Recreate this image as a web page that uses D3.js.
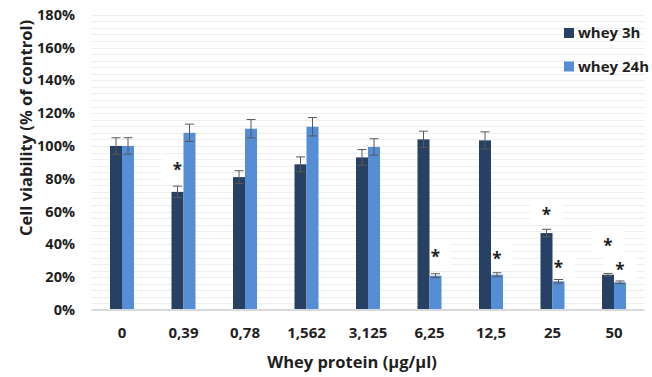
<!DOCTYPE html>
<html>
<head>
<meta charset="utf-8">
<script src="https://cdn.jsdelivr.net/npm/d3@7"></script>
<style>
  html, body { margin: 0; padding: 0; background: #ffffff; }
  svg { display: block; }
  text { font-family: "Open Sans", "DejaVu Sans", sans-serif; fill: #1f1f1f; }
</style>
</head>
<body>
<svg id="chart" width="652" height="377"></svg>
<script>
// Concentrations of whey protein (µg/µl)
const categories = ["0", "0,39", "0,78", "1,562", "3,125", "6,25", "12,5", "25", "50"];
const seriesNames = ["whey 3h", "whey 24h"];
// Viability, % of control
const whey3h  = [100, 72, 81, 88.8, 93, 104, 103.4, 46.9, 21.5];
const whey24h = [100, 108, 110.5, 111.7, 99.4, 20.9, 21.5, 17.5, 16.9];
// Error bars (± % of control)
const err3h  = [5, 3.5, 3.9, 4.5, 4.8, 5, 5.2, 2.3, 0.8];
const err24h = [5, 5.3, 5.6, 5.6, 5, 1.2, 1.2, 1.1, 0.8];
// Significance markers: level (% of control) where the asterisk sits, null = none
const star3h  = [null, 86.9, null, null, null, null, null, 59.7, 41];
const star24h = [null, null, null, null, null, 34.1, 32.9, 27.6, 26.4];
const yTicks = [0, 20, 40, 60, 80, 100, 120, 140, 160, 180];

const colors = ["#264163", "#558ed5"];

const svg = d3.select("#chart");
const plot = { left: 91.25, right: 644.75, top: 14.7, bottom: 310 };

const x = d3.scaleBand().domain(categories).range([plot.left, plot.right]).padding(0);
const xs = d3.scaleBand().domain(seriesNames)
  .range([x.bandwidth() / 2 - 12, x.bandwidth() / 2 + 12]).padding(0);
const y = d3.scaleLinear().domain([0, 180]).range([plot.bottom, plot.top]);

// Gridlines: major every 20%, minor every 4%
const minor = d3.range(4, 181, 4);
svg.append("g").selectAll("line").data(minor).join("line")
  .attr("x1", plot.left).attr("x2", plot.right)
  .attr("y1", d => Math.round(y(d)) + 0.5).attr("y2", d => Math.round(y(d)) + 0.5)
  .attr("stroke", "#efefef").attr("stroke-width", 1);

const rows = categories.map((c, i) => ({
  cat: c,
  vals: [
    { s: seriesNames[0], v: whey3h[i], e: err3h[i], star: star3h[i], k: 0 },
    { s: seriesNames[1], v: whey24h[i], e: err24h[i], star: star24h[i], k: 1 }
  ]
}));

const groups = svg.append("g").selectAll("g").data(rows).join("g")
  .attr("transform", d => `translate(${x(d.cat)},0)`);

const cx = d => xs(d.s) + xs.bandwidth() / 2;

// White label boxes behind the asterisks (they only hide gridlines)
groups.selectAll("rect.box").data(d => d.vals.filter(v => v.star !== null))
  .join("rect").attr("class", "box")
  .attr("x", d => cx(d) - 16).attr("y", d => y(d.star) - 13)
  .attr("width", 32).attr("height", 26)
  .attr("fill", "#ffffff");

// Baseline
svg.append("line")
  .attr("x1", plot.left).attr("x2", plot.right)
  .attr("y1", y(0)).attr("y2", y(0))
  .attr("stroke", "#d9d9d9").attr("stroke-width", 2);

// Bars
groups.selectAll("rect.bar").data(d => d.vals).join("rect")
  .attr("class", "bar")
  .attr("x", d => xs(d.s))
  .attr("width", xs.bandwidth())
  .attr("y", d => y(d.v))
  .attr("height", d => y(0) - y(d.v))
  .attr("fill", d => colors[d.k]);

// Error bars
const eb = groups.selectAll("g.err").data(d => d.vals).join("g").attr("class", "err");
eb.append("line")
  .attr("x1", cx).attr("x2", cx)
  .attr("y1", d => y(d.v + d.e)).attr("y2", d => y(d.v - d.e));
eb.append("line")
  .attr("x1", d => cx(d) - 4.5).attr("x2", d => cx(d) + 4.5)
  .attr("y1", d => y(d.v + d.e)).attr("y2", d => y(d.v + d.e));
eb.append("line")
  .attr("x1", d => cx(d) - 4.5).attr("x2", d => cx(d) + 4.5)
  .attr("y1", d => y(d.v - d.e)).attr("y2", d => y(d.v - d.e));
eb.selectAll("line").attr("stroke", "#595959").attr("stroke-width", 1);

// Significance asterisks
groups.selectAll("text.star").data(d => d.vals.filter(v => v.star !== null))
  .join("text").attr("class", "star")
  .attr("x", cx).attr("y", d => y(d.star) + 9)
  .attr("text-anchor", "middle")
  .attr("font-size", 17).attr("font-weight", 700)
  .text("*");

// Y axis labels
svg.append("g").selectAll("text").data(yTicks).join("text")
  .attr("x", 75).attr("y", d => y(d))
  .attr("dy", "0.35em")
  .attr("text-anchor", "end")
  .attr("font-size", 14.5).attr("font-weight", 700)
  .text(d => d + "%");

// X axis labels
svg.append("g").selectAll("text").data(categories).join("text")
  .attr("x", d => x(d) + x.bandwidth() / 2).attr("y", 333)
  .attr("dy", "0.35em")
  .attr("text-anchor", "middle")
  .attr("font-size", 15).attr("font-weight", 700)
  .text(d => d);

// Axis titles
svg.append("text")
  .attr("x", 352).attr("y", 362).attr("dy", "0.35em")
  .attr("text-anchor", "middle")
  .attr("font-size", 16.5).attr("font-weight", 700)
  .text("Whey protein (µg/µl)");

svg.append("text")
  .attr("transform", "translate(26,128) rotate(-90)")
  .attr("dy", "0.35em")
  .attr("text-anchor", "middle")
  .attr("font-size", 16.5).attr("font-weight", 700)
  .text("Cell viability (% of control)");

// Legend
const legend = svg.append("g").selectAll("g").data(seriesNames).join("g")
  .attr("transform", (d, i) => `translate(564,${33 + i * 33.5})`);
legend.append("rect")
  .attr("x", 0).attr("y", -5).attr("width", 10).attr("height", 10)
  .attr("fill", (d, i) => colors[i]);
legend.append("text")
  .attr("x", 14).attr("y", 0).attr("dy", "0.35em")
  .attr("font-size", 15).attr("font-weight", 700)
  .text(d => d);
</script>
</body>
</html>
